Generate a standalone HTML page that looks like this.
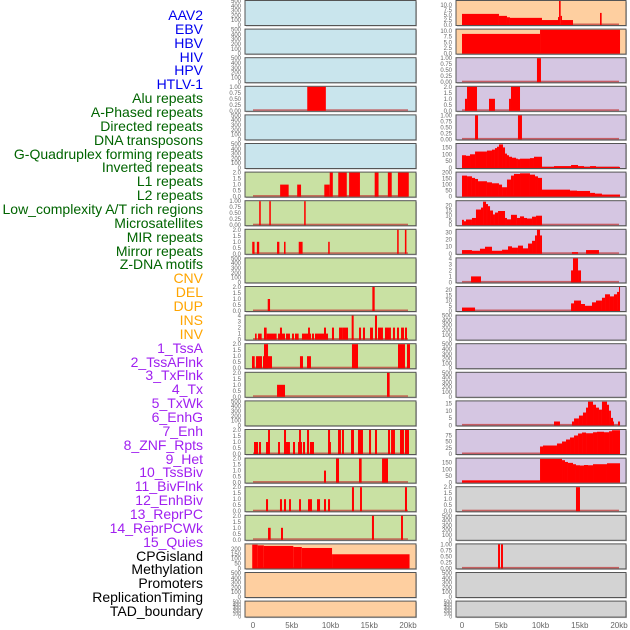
<!DOCTYPE html>
<html><head><meta charset="utf-8"><style>
body{margin:0;background:#fff;width:630px;height:630px;overflow:hidden;font-family:"Liberation Sans",sans-serif}
#labels div{position:absolute;right:427px;font-size:14px;line-height:14px;white-space:nowrap}
</style></head><body>
<div id="labels"></div>
<svg id="chart" width="630" height="630" style="position:absolute;left:0;top:0"></svg>
<script>
const trackNames=["AAV2","EBV","HBV","HIV","HPV","HTLV-1","Alu repeats","A-Phased repeats","Directed repeats","DNA transposons","G-Quadruplex forming repeats","Inverted repeats","L1 repeats","L2 repeats","Low_complexity A/T rich regions","Microsatellites","MIR repeats","Mirror repeats","Z-DNA motifs","CNV","DEL","DUP","INS","INV","1_TssA","2_TssAFlnk","3_TxFlnk","4_Tx","5_TxWk","6_EnhG","7_Enh","8_ZNF_Rpts","9_Het","10_TssBiv","11_BivFlnk","12_EnhBiv","13_ReprPC","14_ReprPCWk","15_Quies","CPGisland","Methylation","Promoters","ReplicationTiming","TAD_boundary"];
const xTickLabels=["0","5kb","10kb","15kb","20kb"];
const xTickValues=[0,5,10,15,20];
// segments: [startKb, endKb, value]
const segAlu=[[3.5,4.6,1],[5.7,6.2,1],[9.2,9.9,1],[9.9,10.3,2],[11.0,12.1,2],[12.4,13.8,2],[15.7,16.2,2],[17.4,17.9,2],[18.7,20.1,2]];
const segHIV=[[7.0,9.4,1]];
const segAPhased=[[0.8,1.0,1],[2.1,2.3,1],[6.6,6.8,1]];
const segDirected=[[-0.1,0.2,1],[0.5,0.8,1],[3.1,3.4,1],[4.0,4.2,1],[5.9,6.4,1],[9.7,9.9,1],[18.6,18.8,2],[19.6,19.8,2]];
const segGQuad=[[1.9,2.2,1],[15.4,15.7,2]];
const segInverted=[[0.26,0.47,1],[0.65,1.12,1],[1.42,1.76,2],[1.76,3.05,1],[3.23,4.13,1],[3.48,3.74,2],[4.26,4.77,1],[5.03,5.29,1],[5.42,5.89,1],[6.32,6.84,1],[6.84,7.48,1],[7.10,7.35,2],[7.61,7.87,1],[8.0,9.16,1],[9.16,9.42,2],[9.42,9.68,1],[10.19,10.45,2],[11.1,11.6,2],[11.6,12.26,2],[12.73,12.99,4],[13.68,13.94,2],[14.19,14.45,2],[15.1,15.48,2],[15.74,16.0,4],[16.13,16.77,2],[17.03,17.55,2],[17.55,17.8,2],[18.06,18.32,2],[18.58,18.84,2],[19.1,19.48,2],[19.61,19.87,2]];
const segL1=[[-0.13,0.22,1],[0.39,1.16,1],[1.29,2.45,1],[1.42,1.94,2],[6.06,6.45,1],[6.97,7.48,1],[12.77,13.55,2],[18.71,19.61,2],[19.87,20.26,2]];
const segL2=[[3.1,4.13,1],[17.29,17.63,2]];
const segMicro=[[0.13,0.65,1],[0.77,1.03,1],[1.68,2.06,1],[1.94,2.19,2],[3.23,3.48,1],[4.0,4.26,2],[4.26,4.77,1],[5.16,5.42,1],[5.81,6.32,1],[5.94,6.19,2],[6.45,6.71,1],[6.97,7.23,2],[7.35,7.87,1],[9.68,9.94,2],[9.94,10.06,1],[10.97,11.35,2],[11.48,11.74,2],[12.65,13.03,2],[13.55,14.19,2],[14.97,15.23,2],[15.74,16.0,2],[17.42,17.68,2],[17.81,18.32,2],[18.97,19.48,2],[19.61,20.13,2]];
const segMIR=[[9.16,9.42,1],[10.71,11.1,2],[13.68,14.02,2],[16.65,17.42,2]];
const segMirror=[[1.68,1.94,1],[3.48,3.74,1],[4.0,4.26,1],[4.65,4.9,1],[5.94,6.19,1],[7.1,7.61,1],[8.26,8.65,1],[9.16,9.42,1],[9.68,9.94,1],[12.77,13.03,2],[13.81,14.06,2],[19.61,19.87,2]];
const segZDNA=[[1.94,2.28,1],[3.61,3.87,1],[15.35,15.61,2],[19.1,19.35,2]];
const segCNV=[[-0.1,0.6,245],[0.6,1.4,238],[1.4,5.2,232],[5.2,6.3,221],[6.3,10.2,211],[10.2,20.2,146]];
const segINS=[[0,4.71,5.6],[4.71,5.73,4.6],[5.73,6.11,3.9],[6.11,10.19,3.6],[10.19,12.23,2.5],[12.23,12.36,4],[12.36,12.57,12.1],[12.57,12.74,4.6],[12.74,14.14,2.5],[17.58,17.79,6.1]];
const segINV=[[0,9.94,8.7],[9.94,20.13,10.5]];
const segTssA=[[9.55,10.06,1]];
const segTssAFlnk=[[0.38,0.64,1],[0.64,1.91,2],[3.44,4.2,1],[5.99,6.24,1],[6.24,7.39,2]];
const segTxFlnk=[[1.66,2.04,1],[7.13,7.64,1]];
const segTx=[[0,0.51,93],[0.51,1.02,89],[1.02,1.66,100],[1.66,3.18,120],[3.18,3.82,127],[3.82,4.2,134],[4.2,4.46,145],[4.46,4.71,155],[4.71,5.22,172],[5.22,5.48,150],[5.48,5.73,105],[5.73,5.99,93],[5.99,6.37,82],[6.37,6.88,75],[6.88,7.13,68],[7.13,7.39,64],[7.39,8.66,68],[8.66,9.17,72],[9.17,10.19,82],[10.19,11.72,8],[11.72,13.89,14],[13.89,14.78,22],[14.78,15.54,14],[15.54,16.31,8],[16.31,17.07,14],[17.07,20.13,8]];
const segTxWk=[[0,0.64,175],[0.64,1.27,169],[1.27,1.66,156],[1.66,2.04,147],[2.04,3.18,128],[3.18,3.82,119],[3.82,4.71,111],[4.71,5.1,100],[5.1,5.73,78],[5.73,6.24,142],[6.24,6.62,175],[6.62,7.39,189],[7.39,8.66,194],[8.66,9.3,183],[9.3,9.68,169],[9.68,10.19,156],[10.19,13.76,58],[13.76,14.65,50],[14.65,16.31,47],[16.31,16.94,31],[16.94,17.83,25],[17.83,20.13,17]];
const segEnhG=[[0,0.25,5.5],[0.25,0.51,4],[0.51,1.27,5.8],[1.27,1.78,7.4],[1.78,2.42,16],[2.42,2.68,18],[2.68,3.06,24],[3.06,3.31,21.6],[3.31,3.57,19.4],[3.57,3.95,15],[3.95,4.2,11],[4.2,4.59,12.9],[4.59,5.48,14.5],[5.48,5.73,7.4],[5.73,6.24,6],[6.24,7.0,10.6],[7.0,7.39,7.4],[7.39,7.9,9],[7.9,8.28,7.4],[8.28,8.92,6.8],[8.92,9.43,8.7],[9.43,10.19,9.7]];
const segEnh=[[0,1.27,5.3],[1.27,2.29,4.3],[2.29,2.93,7.2],[2.93,3.82,10],[3.82,5.1,4.3],[5.1,5.86,5.8],[5.86,6.37,10.6],[6.37,7.13,8.7],[7.13,7.77,11.6],[7.77,8.41,7.7],[8.41,8.92,14.5],[8.92,9.3,18.4],[9.3,9.55,26],[9.55,9.94,34],[9.94,10.19,26],[14.01,14.78,2.4],[15.8,17.45,5.3]];
const segZNF=[[1.15,2.42,1],[13.89,14.14,2],[14.14,14.78,4],[14.78,15.16,2]];
const segHet=[[0,1.66,3.3],[13.89,14.27,7.3],[14.27,15.16,10],[15.16,15.67,6.7],[15.67,16.56,5],[16.56,17.07,8.3],[17.07,17.83,10],[17.83,18.22,12.7],[18.22,18.85,16],[18.85,19.36,14],[19.36,19.75,16],[19.75,20.0,18.3],[20.0,20.13,23]];
const segReprPC=[[11.72,12.48,2.7],[14.01,14.27,2.7],[14.27,14.9,4.8],[14.9,15.41,6.8],[15.41,15.8,8.9],[15.8,16.05,12.3],[16.05,16.69,16.4],[16.69,17.07,14.3],[17.07,17.45,12.3],[17.45,17.83,10.9],[17.83,18.47,16.4],[18.47,18.73,14.3],[18.73,18.98,10.2],[18.98,19.24,5.2],[19.24,19.36,2.7],[19.87,20.13,2.7]];
const segReprPCWk=[[9.94,10.32,30],[10.32,12.1,34],[12.1,12.74,42],[12.74,13.25,50],[13.25,13.76,58],[13.76,14.27,66],[14.27,14.78,74],[14.78,15.29,82],[15.29,15.8,86],[15.8,16.69,83],[16.69,17.2,87],[17.2,18.09,89],[18.09,18.73,87],[18.73,19.11,91],[19.11,20.13,95]];
const segQuies=[[0,9.94,17],[9.94,12.74,178],[12.74,13.12,168],[13.12,13.5,155],[13.5,14.14,148],[14.14,14.52,138],[14.52,15.03,130],[15.03,15.54,128],[15.54,16.05,132],[16.05,16.69,130],[16.69,18.47,138],[18.47,20.13,145]];
const segCPG=[[14.52,15.03,2]];
const segPromoters=[[4.59,4.84,1],[4.97,5.22,1]];
const ticksEmpty=[0,100,200,300,400,500];
const ticks1=[0,0.25,0.5,0.75,1.0];
const ticks2=[0,0.5,1.0,1.5,2.0];
const ticks4=[0,1,2,3,4];
const ticksCNV=[0,50,100,150,200];
const ticks10=[0,2.5,5.0,7.5,10.0];
const ticksTx=[0,50,100,150];
const ticksTxWk=[0,50,100,150,200];
const ticksEnhG=[0,5,10,15,20];
const ticksEnh=[0,10,20,30];
const ticksHet=[0,5,10,15,20];
const ticksReprPC=[0,5,10,15];
const ticksReprPCWk=[0,25,50,75];
const fmt1=v=>v.toFixed(2), fmtH=v=>v.toFixed(1), fmtI=v=>String(v);

const BLUE="#c9e5ed",GREEN="#c9e1a3",ORANGE="#fecfa0",PURPLE="#d5c6e2",GRAY="#d3d3d3";
function P(segs,ymax,ticks,fmt,bg){return {segs,ymax,ticks,fmt,bg};}
const E=bg=>P(null,500,ticksEmpty,fmtI,bg);
const leftPanels=[E(BLUE),E(BLUE),E(BLUE),P(segHIV,1,ticks1,fmt1,BLUE),E(BLUE),E(BLUE),
P(segAlu,2,ticks2,fmtH,GREEN),P(segAPhased,1,ticks1,fmt1,GREEN),P(segDirected,2,ticks2,fmtH,GREEN),E(GREEN),P(segGQuad,2,ticks2,fmtH,GREEN),P(segInverted,4,ticks4,fmtI,GREEN),P(segL1,2,ticks2,fmtH,GREEN),P(segL2,2,ticks2,fmtH,GREEN),E(GREEN),P(segMicro,2,ticks2,fmtH,GREEN),P(segMIR,2,ticks2,fmtH,GREEN),P(segMirror,2,ticks2,fmtH,GREEN),P(segZDNA,2,ticks2,fmtH,GREEN),
P(segCNV,248,ticksCNV,fmtI,ORANGE),E(ORANGE),E(ORANGE)];
const rightPanels=[P(segINS,12.1,ticks10,fmtH,ORANGE),P(segINV,10.6,ticks10,fmtH,ORANGE),
P(segTssA,1,ticks1,fmt1,PURPLE),P(segTssAFlnk,2,ticks2,fmtH,PURPLE),P(segTxFlnk,1,ticks1,fmt1,PURPLE),P(segTx,175,ticksTx,fmtI,PURPLE),P(segTxWk,200,ticksTxWk,fmtI,PURPLE),P(segEnhG,24.5,ticksEnhG,fmtI,PURPLE),P(segEnh,34,ticksEnh,fmtI,PURPLE),P(segZNF,4,ticks4,fmtI,PURPLE),P(segHet,23,ticksHet,fmtI,PURPLE),E(PURPLE),E(PURPLE),E(PURPLE),P(segReprPC,16.6,ticksReprPC,fmtI,PURPLE),P(segReprPCWk,96,ticksReprPCWk,fmtI,PURPLE),P(segQuies,180,ticksTx,fmtI,PURPLE),
P(segCPG,2,ticks2,fmtH,GRAY),E(GRAY),P(segPromoters,1,ticks1,fmt1,GRAY),E(GRAY),E(GRAY)];

const NS="http://www.w3.org/2000/svg";
const svg=document.getElementById('chart');
function mk(tag,attrs,parent){const e=document.createElementNS(NS,tag);for(const k in attrs)e.setAttribute(k,attrs[k]);(parent||svg).appendChild(e);return e;}
const cols=[{x0:245,x1:416,zero:253,ppk:7.75,panels:leftPanels,tickX:241},{x0:456,x1:626,zero:462,ppk:7.85,panels:rightPanels,tickX:452}];
cols.forEach((c,ci)=>{
  const xs=kb=>c.zero+kb*c.ppk;
  c.panels.forEach((p,i)=>{
    const top=0.5+i*28.6, h=(i===21?16:25), bot=top+h;
    const g=mk('g',{});
    
    
    const r=mk('rect',{x:c.x0+1,y:top+1,width:c.x1-c.x0,height:h,fill:'#999',opacity:0.6},g);
    
    const bg=mk('rect',{x:c.x0,y:top,width:c.x1-c.x0,height:h,fill:p.bg,stroke:'#555',"stroke-width":1},g);
    
    const ys=v=>bot-0.5-(v/p.ymax)*(h-1);
    if(p.segs){
      const bl=mk('rect',{x:xs(0),y:ys(0)-1.5,width:xs(20)-xs(0),height:1.5,fill:'#c03030',opacity:0.7},g);
      
      p.segs.forEach(s=>{
        const b=mk('rect',{x:xs(s[0]),y:ys(s[2]),width:Math.max(0.8,xs(s[1])-xs(s[0])),height:ys(0)-ys(s[2]),fill:'#ff0000'},g);
        
      });
    }
    p.ticks.forEach(t=>{
      const tx=mk('text',{x:c.tickX,y:ys(t)+2,"text-anchor":"end","font-size":(i===21?5:6),fill:'#666',"font-family":"Liberation Sans, sans-serif"},g);
      
      tx.textContent=p.fmt(t);
    });
  });
  xTickValues.forEach((v,k)=>{
    const tx=mk('text',{x:xs(v),y:628,"text-anchor":"middle","font-size":8,fill:'#666',"font-family":"Liberation Sans, sans-serif"});
    
    tx.textContent=xTickLabels[k];
  });
});
const lab=document.getElementById('labels');
const colorFor=i=>i<6?'#0000ee':i<19?'#006400':i<24?'#ffa500':i<39?'#a020f0':'#000';
trackNames.forEach((n,i)=>{
  const d=document.createElement('div');
  
  
  d.style.top=(8+i*13.86)+'px';d.style.color=colorFor(i);d.textContent=n;lab.appendChild(d);
});
</script>
</body></html>
